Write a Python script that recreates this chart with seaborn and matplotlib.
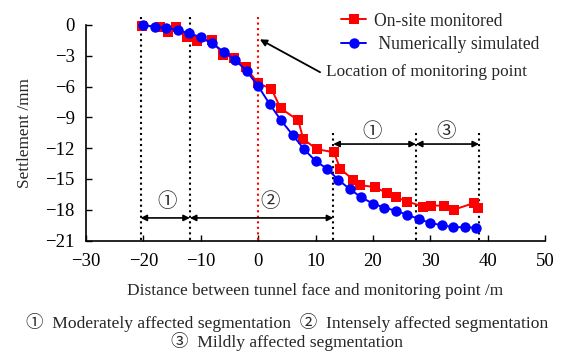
import matplotlib
matplotlib.use("Agg")
import matplotlib.pyplot as plt
import seaborn as sns
import pandas as pd

# ---- data ----
sim_x = [-20, -18, -16, -14, -12, -10, -8, -6, -4, -2, 0, 2, 4, 6, 8, 10, 12, 14,
         16, 18, 20, 22, 24, 26, 28, 30, 32, 34, 36, 38]
sim_y = [0.0, -0.2, -0.25, -0.5, -0.8, -1.2, -1.8, -2.6, -3.4, -4.5, -5.95, -7.7,
         -9.3, -10.7, -12.1, -13.25, -14.0, -15.1, -16.0, -16.8, -17.4, -17.8, -18.1,
         -18.5, -18.9, -19.3, -19.5, -19.7, -19.7, -19.75]

mon_x = [-20.2, -17.1, -15.7, -14.4, -12.4, -10.6, -8.1, -6.1, -4.2, -2.2, 0, 2.3,
         3.9, 7.0, 7.85, 10.2, 13.2, 14.3, 16.6, 17.7, 20.4, 22.5, 24.1, 26, 28.8,
         30.1, 32.4, 34.1, 37.6, 38.3]
mon_y = [-0.05, -0.15, -0.65, -0.2, -1.2, -1.6, -1.45, -2.9, -3.2, -4.1, -5.7, -6.2,
         -8.1, -9.3, -11.1, -12.1, -12.4, -14.0, -15.1, -15.6, -15.8, -16.4, -16.8,
         -17.2, -17.7, -17.6, -17.6, -18.0, -17.35, -17.8]

series_names = ["On-site monitored", " Numerically simulated"]
x_ticks = [-30, -20, -10, 0, 10, 20, 30, 40, 50]
y_ticks = [0, -3, -6, -9, -12, -15, -18, -21]

seg_bounds = [-20.5, -11.9, 13.1, 27.5, 38.5]
x_label = "Distance between tunnel face and monitoring point /m"
y_label = "Settlement /mm"
note = "Location of monitoring point"
caption1 = "\u2460  Moderately affected segmentation  \u2461  Intensely affected segmentation"
caption2 = "\u2462  Mildly affected segmentation"

# ---- style ----
sns.set_style("ticks")
serif = ["Liberation Serif", "Noto Sans CJK SC", "DejaVu Sans"]
circ = ["Noto Sans CJK SC", "DejaVu Sans"]
plt.rcParams["font.family"] = serif
plt.rcParams["axes.unicode_minus"] = True

fig = plt.figure(figsize=(5.63, 3.54), dpi=100)
ax = fig.add_axes([0.1528, 0.3206, 0.8152, 0.6088])

df_mon = pd.DataFrame({"x": mon_x, "y": mon_y})
df_sim = pd.DataFrame({"x": sim_x, "y": sim_y})

sns.lineplot(data=df_mon, x="x", y="y", ax=ax, color="#ff0000", marker="s",
             markersize=7, markeredgewidth=0, lw=1.4, sort=False,
             label=series_names[0], zorder=3)
sns.lineplot(data=df_sim, x="x", y="y", ax=ax, color="#0000ff", marker="o",
             markersize=7.5, markeredgewidth=0, lw=1.4, sort=False,
             label=series_names[1], zorder=4)
for ln in ax.lines:
    ln.set_clip_on(False)

ax.set_xlim(-30, 50)
ax.set_ylim(-21, 0)
ax.set_xticks(x_ticks)
ax.set_yticks(y_ticks)
ax.tick_params(direction="in", length=4, width=1, labelsize=13.5, color="black",
               labelcolor="black")
ax.tick_params(axis="x", pad=9)
ax.tick_params(axis="y", pad=8)
for s in ["top", "right"]:
    ax.spines[s].set_visible(False)
for s in ["left", "bottom"]:
    ax.spines[s].set_linewidth(1.2)
    ax.spines[s].set_color("black")

ax.set_xlabel(x_label, fontsize=12.4, labelpad=9)
ax.set_ylabel(y_label, fontsize=12.4, labelpad=9)

# vertical dotted lines
ax.plot([0, 0], [0.8, -21], ls=":", color="#ff0000", lw=1.5, clip_on=False, zorder=2)
for xb in seg_bounds[:2]:
    ax.plot([xb, xb], [0.8, -21], ls=":", color="black", lw=1.5, clip_on=False, zorder=2)
for xb in seg_bounds[2:]:
    ax.plot([xb, xb], [-10.5, -21], ls=":", color="black", lw=1.5, clip_on=False, zorder=2)

aprops = dict(arrowstyle="<|-|>", color="black", lw=1.2, mutation_scale=9,
              shrinkA=0, shrinkB=0)
ax.annotate("", xy=(seg_bounds[0], -18.8), xytext=(seg_bounds[1], -18.8), arrowprops=aprops)
ax.annotate("", xy=(seg_bounds[1], -18.8), xytext=(seg_bounds[2], -18.8), arrowprops=aprops)
ax.annotate("", xy=(seg_bounds[2], -11.6), xytext=(seg_bounds[3], -11.6), arrowprops=aprops)
ax.annotate("", xy=(seg_bounds[3], -11.6), xytext=(seg_bounds[4], -11.6), arrowprops=aprops)
ax.text(-15.9, -17.2, "\u2460", fontsize=14, ha="center", va="center", family=circ)
ax.text(2.1, -17.2, "\u2461", fontsize=14, ha="center", va="center", family=circ)
ax.text(19.8, -10.4, "\u2460", fontsize=14, ha="center", va="center", family=circ)
ax.text(32.7, -10.4, "\u2462", fontsize=14, ha="center", va="center", family=circ)

# location annotation
ax.annotate("", xy=(0.3, -1.4), xytext=(10.8, -4.6),
            arrowprops=dict(arrowstyle="-|>", color="black", lw=1.3, mutation_scale=10,
                            shrinkA=0, shrinkB=0))
ax.text(11.9, -4.6, note, fontsize=12.4, ha="left", va="center")

leg = ax.legend(loc="upper left", bbox_to_anchor=(0.54, 1.09), frameon=False,
                fontsize=12.7, handlelength=1.45, handletextpad=0.45, labelspacing=0.35,
                borderaxespad=0)

fig.text(0.51, 0.088, caption1, fontsize=12.6, ha="center", va="center")
fig.text(0.51, 0.036, caption2, fontsize=12.6, ha="center", va="center")

fig.savefig("out.png", dpi=100)
